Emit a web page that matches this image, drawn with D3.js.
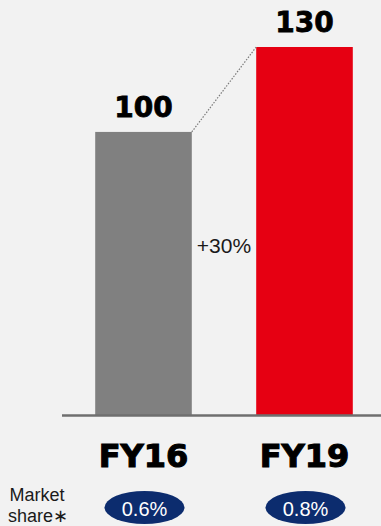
<!DOCTYPE html>
<html>
<head>
<meta charset="utf-8">
<script src="https://cdn.jsdelivr.net/npm/d3@7"></script>
<style>
  html, body { margin: 0; padding: 0; background: #f2f2f2; }
  svg { display: block; }
</style>
</head>
<body>
<div id="chart"></div>
<script>
// Indexed revenue, FY16 = 100
const years = ["FY16", "FY19"];
const values = [100, 130];
const valueLabels = ["100", "130"];
const shares = ["0.6%", "0.8%"];
const growthLabel = "+30%";
const barColors = ["#808080", "#e60012"];

const W = 381, H = 526;
const svg = d3.select("#chart").append("svg")
  .attr("width", W).attr("height", H);

svg.append("rect").attr("width", W).attr("height", H).attr("fill", "#f2f2f2");

const x = d3.scaleBand()
  .domain(years)
  .range([63, 385])
  .paddingInner(0.4)
  .paddingOuter(0.2);

const y = d3.scaleLinear()
  .domain([0, 130])
  .range([415, 47]);

const data = years.map((yr, i) => ({ yr, v: values[i], label: valueLabels[i], share: shares[i], color: barColors[i] }));

// Bars
svg.selectAll("rect.bar").data(data).enter().append("rect")
  .attr("class", "bar")
  .attr("x", d => x(d.yr))
  .attr("y", d => y(d.v))
  .attr("width", x.bandwidth())
  .attr("height", d => y(0) - y(d.v))
  .attr("fill", d => d.color);

// Dotted connector between bar tops
svg.append("line")
  .attr("x1", x(years[0]) + x.bandwidth())
  .attr("y1", y(values[0]))
  .attr("x2", x(years[1]))
  .attr("y2", y(values[1]))
  .attr("stroke", "#7a7a7a")
  .attr("stroke-width", 1.2)
  .attr("stroke-dasharray", "1.5,1.5");

// Baseline
svg.append("line")
  .attr("x1", 62).attr("x2", W)
  .attr("y1", y(0) + 0.5).attr("y2", y(0) + 0.5)
  .attr("stroke", "#6f6f6f")
  .attr("stroke-width", 2.7);

// Value labels above bars
svg.selectAll("text.val").data(data).enter().append("text")
  .attr("class", "val")
  .attr("x", d => x(d.yr) + x.bandwidth() / 2)
  .attr("y", d => y(d.v) - 15)
  .attr("text-anchor", "middle")
  .attr("font-family", "DejaVu Sans, sans-serif")
  .attr("font-weight", "bold")
  .attr("font-size", 28)
  .attr("fill", "#000")
  .attr("stroke", "#000")
  .attr("stroke-width", 0.8)
  .text(d => d.label);

// Growth label between bars
svg.append("text")
  .attr("x", (x(years[0]) + x.bandwidth() + x(years[1])) / 2)
  .attr("y", 253)
  .attr("text-anchor", "middle")
  .attr("font-family", "Liberation Sans, Arial, sans-serif")
  .attr("font-size", 21)
  .attr("fill", "#1a1a1a")
  .text(growthLabel);

// Category labels
svg.selectAll("text.cat").data(data).enter().append("text")
  .attr("class", "cat")
  .attr("x", d => x(d.yr) + x.bandwidth() / 2)
  .attr("y", 467)
  .attr("text-anchor", "middle")
  .attr("font-family", "DejaVu Sans, sans-serif")
  .attr("font-weight", "bold")
  .attr("font-size", 32)
  .attr("fill", "#000")
  .attr("stroke", "#000")
  .attr("stroke-width", 1.1)
  .text(d => d.yr);

// Market share pills
const pills = svg.selectAll("g.pill").data(data).enter().append("g")
  .attr("class", "pill")
  .attr("transform", d => `translate(${x(d.yr) + x.bandwidth() / 2 + 1},507.5)`);
pills.append("ellipse")
  .attr("rx", 40).attr("ry", 16.5)
  .attr("fill", "#0c2c6e");
pills.append("text")
  .attr("y", 8)
  .attr("text-anchor", "middle")
  .attr("font-family", "Liberation Sans, Arial, sans-serif")
  .attr("font-size", 20)
  .attr("fill", "#ffffff")
  .text(d => d.share);

// Row caption
const cap = svg.append("text")
  .attr("text-anchor", "middle")
  .attr("font-family", "Liberation Sans, Arial, sans-serif")
  .attr("font-size", 18)
  .attr("fill", "#1a1a1a");
cap.append("tspan").attr("x", 37).attr("y", 501).text("Market");
cap.append("tspan").attr("x", 38).attr("y", 522).text("share\u2217");
</script>
</body>
</html>
